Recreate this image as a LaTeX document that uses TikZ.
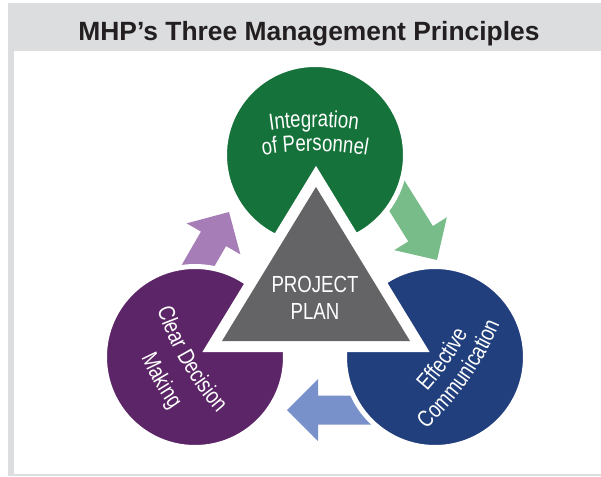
\documentclass[tikz,border=0pt]{standalone}
\usepackage{fontspec}
\setmainfont{Liberation Sans}
\newfontfamily\narrowsans[FakeStretch=0.8]{Liberation Sans}
\usetikzlibrary{decorations.text}
\definecolor{framegray}{HTML}{DCDDDF}
\definecolor{titleblack}{HTML}{231F20}
\definecolor{intgreen}{HTML}{15723A}
\definecolor{decpurple}{HTML}{5C2567}
\definecolor{commblue}{HTML}{213F7D}
\definecolor{plangray}{HTML}{646466}
\definecolor{greenarrow}{HTML}{77BC89}
\definecolor{purparrow}{HTML}{A67DB6}
\definecolor{bluearrow}{HTML}{7891CA}
\newcommand{\petalfont}{\narrowsans\fontsize{23.3}{28}\selectfont}
\tikzset{
    petal/.style={circle, draw=white, line width=5pt, minimum size=181pt, inner sep=0pt},
    plantext/.style={font=\petalfont, text=white, inner sep=0pt, anchor=base},
    cyclearrow/.pic={
        \fill[pic actions] (0,0) -- (-31,31) -- (-31,14.5) -- (-106,14.5) -- (-106,-14.5) -- (-31,-14.5) -- (-31,-31) -- cycle;
    },
    arctext/.style={decorate, decoration={text along path, text align=center, text={|\petalfont\color{white}|#1}}},
}

\begin{document}
\begin{tikzpicture}[x=1pt, y=-1pt]
    \useasboundingbox (0,0) rectangle (601,476);
    \fill[framegray] (8,3) rectangle (601,476);
    \fill[white] (14,51) rectangle (601,474);
    \node[font=\bfseries\fontsize{26.4}{30}\selectfont, text=titleblack, anchor=base] (title) at (309,41) {MHP’s Three Management Principles};
    % arrows go under the circles
    \pic[rotate=60, fill=purparrow] (uparrow) at (229,212) {cyclearrow};
    \pic[rotate=-58, fill=greenarrow] (downarrow) at (437,260) {cyclearrow};
    \pic[rotate=180, fill=bluearrow] (backarrow) at (287,410) {cyclearrow};
    \node[petal, fill=intgreen] (intg) at (315,155) {};
    \node[petal, fill=decpurple] (dec) at (195,357) {};
    \node[petal, fill=commblue] (comm) at (435,357) {};
    \coordinate (apex) at (316,187);
    \coordinate (bl) at (222,341);
    \coordinate (br) at (410,341);
    \filldraw[white, line width=22pt, line join=miter] (apex) -- (bl) -- (br) -- cycle;
    \fill[plangray] (apex) -- (bl) -- (br) -- cycle;
    \node[plantext] (plantop) at (315,292) {PROJECT};
    \node[plantext] (planbot) at (315,319) {PLAN};
    % labels bent along arcs
    \begin{scope}[shift={(intg.center)}, x=1pt, y=1pt]
        \path[arctext={Integration}] ([shift={(-1,-272)}]125:300) arc[start angle=125, end angle=55, radius=300];
        \path[arctext={of Personnel}] ([shift={(0,-296)}]125:300) arc[start angle=125, end angle=55, radius=300];
    \end{scope}
    \begin{scope}[shift={(dec.center)}, x=1pt, y=1pt, rotate=-60]
        \path[arctext={Clear Decision}] ([shift={(0,285)}]235:300) arc[start angle=235, end angle=305, radius=300];
        \path[arctext={Making}] ([shift={(3.6,251.5)}]235:300) arc[start angle=235, end angle=305, radius=300];
    \end{scope}
    \begin{scope}[shift={(comm.center)}, x=1pt, y=1pt, rotate=55]
        \path[arctext={Effective}] ([shift={(2.6,284.5)}]235:300) arc[start angle=235, end angle=305, radius=300];
        \path[arctext={Communication}] ([shift={(0,259)}]235:300) arc[start angle=235, end angle=305, radius=300];
    \end{scope}
\end{tikzpicture}
\end{document}
